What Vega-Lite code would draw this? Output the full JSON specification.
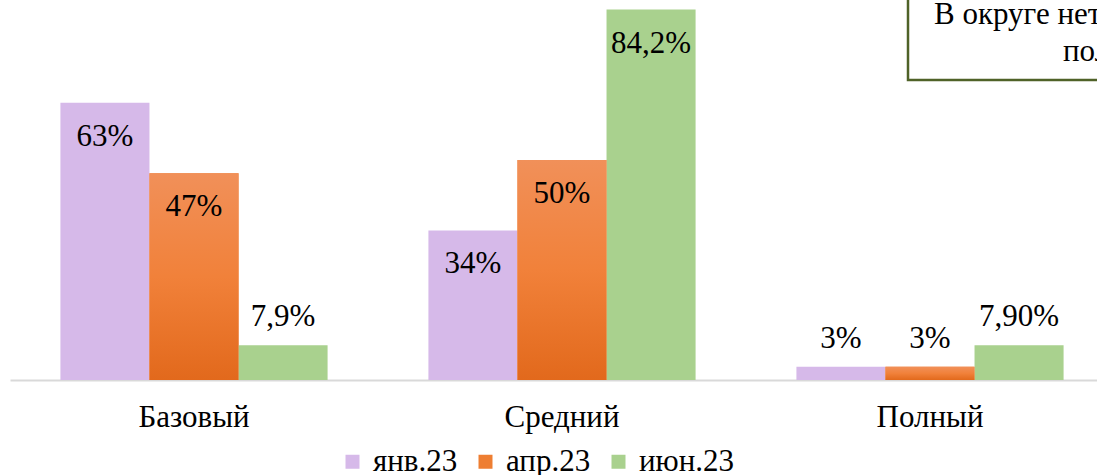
{
  "$schema": "https://vega.github.io/schema/vega-lite/v6.json",
  "width": 1087,
  "height": 380,
  "autosize": {"type": "none"},
  "padding": {"left": 10, "top": 0, "right": 0, "bottom": 95},
  "background": "white",
  "config": {"view": {"stroke": null}, "font": "Liberation Serif"},
  "data": {"values": [
    {"level": "Базовый", "period": "янв.23", "value": 63, "label": "63%"},
    {"level": "Базовый", "period": "апр.23", "value": 47, "label": "47%"},
    {"level": "Базовый", "period": "июн.23", "value": 7.9, "label": "7,9%"},
    {"level": "Средний", "period": "янв.23", "value": 34, "label": "34%"},
    {"level": "Средний", "period": "апр.23", "value": 50, "label": "50%"},
    {"level": "Средний", "period": "июн.23", "value": 84.2, "label": "84,2%"},
    {"level": "Полный", "period": "янв.23", "value": 3, "label": "3%"},
    {"level": "Полный", "period": "апр.23", "value": 3, "label": "3%"},
    {"level": "Полный", "period": "июн.23", "value": 7.9, "label": "7,90%"}
  ]},
  "encoding": {
    "x": {"field": "level", "type": "nominal", "sort": ["Базовый", "Средний", "Полный"],
      "scale": {"range": [0, 1104], "paddingInner": 0.274, "paddingOuter": 0.137},
      "axis": {"title": null, "labelAngle": 0, "ticks": false, "grid": false, "domainColor": "#D9D9D9", "domainWidth": 2,
        "labelFontSize": 31, "labelColor": "#000000", "labelFont": "Liberation Serif", "labelPadding": 22}},
    "xOffset": {"field": "period", "type": "nominal", "sort": ["янв.23", "апр.23", "июн.23"], "scale": {"paddingInner": 0, "paddingOuter": 0}},
    "y": {"field": "value", "type": "quantitative", "scale": {"domain": [0, 86.36], "nice": false}, "axis": null}
  },
  "layer": [
    {
      "mark": {"type": "bar"},
      "encoding": {
        "color": {"field": "period", "type": "nominal", "sort": ["янв.23", "апр.23", "июн.23"],
          "scale": {"domain": ["янв.23", "апр.23", "июн.23"], "range": ["#D6B9E9", "#EE7E32", "#A9D18E"]},
          "legend": {"title": null, "orient": "none", "direction": "horizontal", "legendX": 327, "legendY": 446,
            "symbolType": "square", "symbolSize": 196, "symbolStrokeWidth": 0, "labelFontSize": 31, "labelFont": "Liberation Serif",
            "labelColor": "#000000", "labelOffset": 5, "columnPadding": 12, "padding": 0}}
      }
    },
    {
      "transform": [{"filter": "datum.period === 'апр.23'"}],
      "mark": {"type": "bar", "color": {"gradient": "linear", "x1": 0, "y1": 0, "x2": 0, "y2": 1,
        "stops": [{"offset": 0, "color": "#F19059"}, {"offset": 0.5, "color": "#F1813A"}, {"offset": 1, "color": "#E2691C"}]}}
    },
    {
      "transform": [{"filter": "datum.value > 20"}],
      "mark": {"type": "text", "fontSize": 31, "font": "Liberation Serif", "color": "#000000", "baseline": "middle", "dy": 34},
      "encoding": {"text": {"field": "label"}}
    },
    {
      "transform": [{"filter": "datum.value <= 20"}],
      "mark": {"type": "text", "fontSize": 31, "font": "Liberation Serif", "color": "#000000", "baseline": "middle", "dy": -28},
      "encoding": {"text": {"field": "label"}}
    },
    {
      "data": {"values": [{"level": "Полный", "top": 95, "bottom": 68.2}]},
      "mark": {"type": "bar", "width": 206, "xOffset": 81, "fill": "white", "stroke": "#4F6228", "strokeWidth": 2.5},
      "encoding": {
        "x": {"field": "level", "type": "nominal"},
        "xOffset": null,
        "y": {"field": "top", "type": "quantitative"},
        "y2": {"field": "bottom"}
      }
    },
    {
      "data": {"values": [{"level": "Полный", "pos": 81.0, "text": "В округе нет школ"}]},
      "mark": {"type": "text", "fontSize": 31, "font": "Liberation Serif", "color": "#000000", "align": "left", "baseline": "alphabetic", "dx": 4},
      "encoding": {
        "x": {"field": "level", "type": "nominal"},
        "xOffset": null,
        "y": {"field": "pos", "type": "quantitative"},
        "text": {"field": "text"}
      }
    },
    {
      "data": {"values": [{"level": "Полный", "pos": 72.5, "text": "полного уровня"}]},
      "mark": {"type": "text", "fontSize": 31, "font": "Liberation Serif", "color": "#000000", "align": "left", "baseline": "alphabetic", "dx": 133},
      "encoding": {
        "x": {"field": "level", "type": "nominal"},
        "xOffset": null,
        "y": {"field": "pos", "type": "quantitative"},
        "text": {"field": "text"}
      }
    }
  ]
}
